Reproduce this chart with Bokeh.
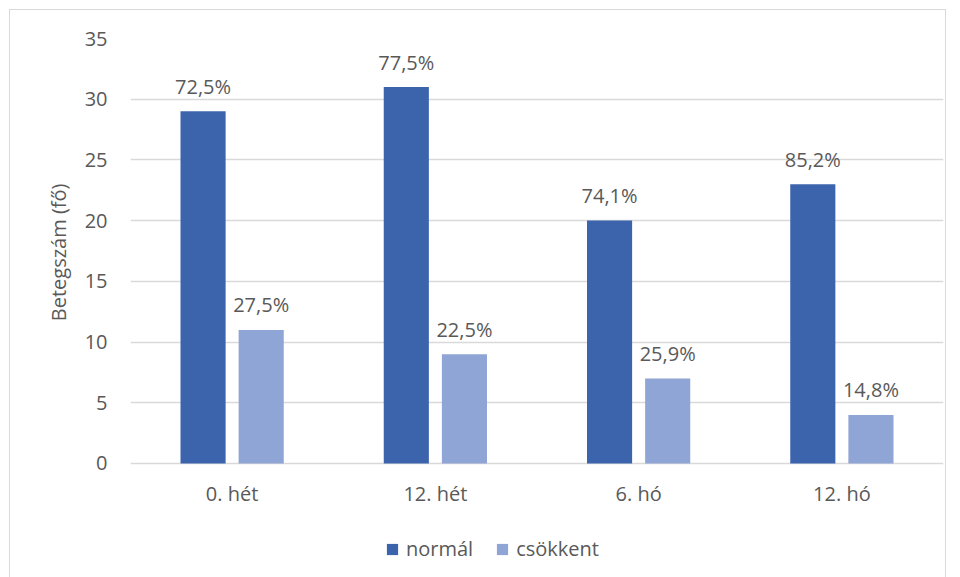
from bokeh.plotting import figure
from bokeh.models import (FactorRange, Range1d, FixedTicker, LabelSet,
                          ColumnDataSource, Legend, LegendItem)
from bokeh.core.properties import value
from bokeh.transform import dodge
from bokeh.embed import file_html
from bokeh.resources import INLINE

categories = ["0. hét", "12. hét", "6. hó", "12. hó"]
normal = [29, 31, 20, 23]
csokkent = [11, 9, 7, 4]
normal_pct = ["72,5%", "77,5%", "74,1%", "85,2%"]
csokkent_pct = ["27,5%", "22,5%", "25,9%", "14,8%"]
y_ticks = [0, 5, 10, 15, 20, 25, 30, 35]

FONT = "Open Sans"
TXT = "#595959"
C_DARK = "#3c64ad"
C_LIGHT = "#8fa5d6"

src = ColumnDataSource(dict(cat=categories, normal=normal, csokkent=csokkent,
                            npct=normal_pct, cpct=csokkent_pct))

# frame spans from the top plot margin down to the bottom of the canvas;
# the category axis is pinned at y = 0 so legend + labels stay in the frame
p = figure(x_range=FactorRange(*categories), y_range=Range1d(-9.64, 35),
           width=937, height=570, output_backend="svg", toolbar_location=None,
           min_border_left=120, min_border_right=4, min_border_top=28,
           min_border_bottom=0)
p.styles = {"margin-left": "9px", "margin-top": "9px",
            "border": "1px solid #d9d9d9"}
p.outline_line_color = None
p.background_fill_color = "white"
p.border_fill_color = "white"

r1 = p.vbar(x=dodge("cat", -0.143, range=p.x_range), top="normal", width=0.222,
            source=src, fill_color=C_DARK, line_color=None)
r2 = p.vbar(x=dodge("cat", 0.143, range=p.x_range), top="csokkent", width=0.222,
            source=src, fill_color=C_LIGHT, line_color=None)

for col, lab, off in (("normal", "npct", -0.143), ("csokkent", "cpct", 0.143)):
    p.add_layout(LabelSet(x=dodge("cat", off, range=p.x_range), y=col, text=lab,
                          source=src, y_offset=25, text_align="center",
                          text_baseline="middle", text_font=value(FONT),
                          text_font_size="20px", text_color=TXT))

p.xgrid.grid_line_color = None
p.ygrid.grid_line_color = "#d9d9d9"
p.ygrid.grid_line_width = 1.3
p.yaxis.ticker = FixedTicker(ticks=y_ticks)

for ax in (p.xaxis[0], p.yaxis[0]):
    ax.axis_line_color = None
    ax.major_tick_line_color = None
    ax.minor_tick_line_color = None
    ax.major_label_text_font = FONT
    ax.major_label_text_font_size = "20px"
    ax.major_label_text_color = TXT

p.xaxis.fixed_location = 0
p.xaxis.major_label_standoff = 11
p.yaxis.major_label_standoff = 17
p.yaxis.axis_label = "\u00a0" * 22 + "Betegszám (fő)"
p.yaxis.axis_label_text_font = FONT
p.yaxis.axis_label_text_font_size = "20px"
p.yaxis.axis_label_text_font_style = "normal"
p.yaxis.axis_label_text_color = TXT
p.yaxis.axis_label_standoff = 10

legend = Legend(items=[LegendItem(label="normál", renderers=[r1]),
                       LegendItem(label="csökkent", renderers=[r2])],
                orientation="horizontal", location=(255, 18),
                border_line_color=None, background_fill_alpha=0,
                label_text_font=FONT, label_text_font_size="20px",
                label_text_color=TXT, glyph_width=14, glyph_height=14,
                label_height=24, label_standoff=7, spacing=22,
                padding=5, margin=0)
p.add_layout(legend)

open("out.html", "w").write(file_html(p, INLINE))
